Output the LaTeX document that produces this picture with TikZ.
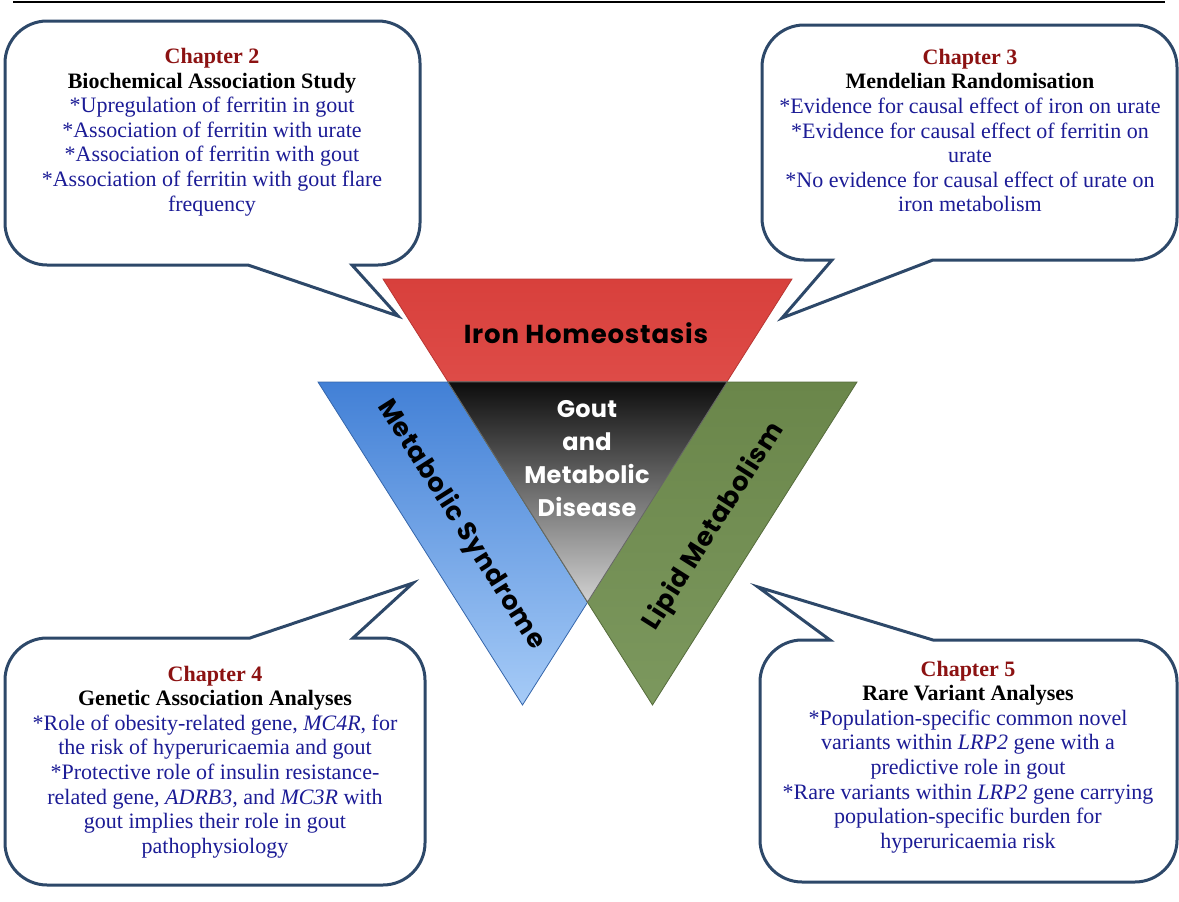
\documentclass[tikz,border=0pt]{standalone}
\usepackage{fontspec}
\setmainfont{Liberation Serif}
\newfontfamily\gothic{Poppins}[LetterSpace=3]
\newfontfamily\gothicctr{Poppins}[LetterSpace=1]
\definecolor{chapred}{RGB}{140,18,18}
\definecolor{bodyblue}{RGB}{28,28,150}
\definecolor{cline}{RGB}{45,72,105}
\definecolor{redtop}{RGB}{216,64,60}
\definecolor{redbot}{RGB}{234,100,96}
\definecolor{bluetop}{RGB}{66,128,214}
\definecolor{bluebot}{RGB}{166,203,247}
\definecolor{greentop}{RGB}{106,134,74}
\definecolor{greenbot}{RGB}{124,152,94}
\newcommand{\chaphead}[1]{{\color{chapred}\bfseries #1}}
\newcommand{\titlehead}[1]{{\color{black}\bfseries #1}}
\begin{document}
\begin{tikzpicture}[x=1pt,y=-1pt,
  callout/.style={draw=cline,line width=3pt,fill=white,line join=miter},
  ctext/.style={align=center,font=\fontsize{22}{24.6}\selectfont,text=bodyblue,inner sep=0pt},
  tri/.style={line width=0.8pt},
  gtext/.style={font=\gothic\bfseries\fontsize{26}{30}\selectfont,text=black,inner sep=0pt},
  ctrtext/.style={font=\gothicctr\bfseries\fontsize{24}{33}\selectfont,text=white,align=center,inner sep=0pt}]
\useasboundingbox (0,0) rectangle (1179,902);
% top rule
\coordinate (ruleL) at (13,2);
\coordinate (ruleR) at (1165,2);
\draw[line width=2.5pt] (ruleL) -- (ruleR);
% callout 1 (top-left)
\draw[callout] (47,21) -- (378,21) .. controls (401,21) and (420,40) .. (420,63)
  -- (420,223) .. controls (420,246) and (401,265) .. (378,265)
  -- (352,265) -- (398,316) -- (248,265)
  -- (47,265) .. controls (24,265) and (5,246) .. (5,223)
  -- (5,63) .. controls (5,40) and (24,21) .. cycle;
% callout 2 (top-right)
\draw[callout] (804,25) -- (1135,25) .. controls (1158,25) and (1177,44) .. (1177,67)
  -- (1177,218) .. controls (1177,241) and (1158,260) .. (1135,260)
  -- (933,260) -- (782,318) -- (832,260)
  -- (804,260) .. controls (781,260) and (762,241) .. (762,218)
  -- (762,67) .. controls (762,44) and (781,25) .. cycle;
% callout 3 (bottom-left)
\draw[callout] (47,638) -- (250,638) -- (413,583) -- (353,638)
  -- (383,638) .. controls (406,638) and (425,657) .. (425,680)
  -- (425,843) .. controls (425,866) and (406,885) .. (383,885)
  -- (47,885) .. controls (24,885) and (5,866) .. (5,843)
  -- (5,680) .. controls (5,657) and (24,638) .. cycle;
% callout 4 (bottom-right)
\draw[callout] (802,640) -- (830,640) -- (758,587) -- (933,640)
  -- (1135,640) .. controls (1158,640) and (1177,659) .. (1177,682)
  -- (1177,840) .. controls (1177,863) and (1158,882) .. (1135,882)
  -- (802,882) .. controls (779,882) and (760,863) .. (760,840)
  -- (760,682) .. controls (760,659) and (779,640) .. cycle;
% callout texts
\node[ctext] (t2) at (212,132) {\chaphead{Chapter 2}\\
  \titlehead{Biochemical Association Study}\\
  *Upregulation of ferritin in gout\\
  *Association of ferritin with urate\\
  *Association of ferritin with gout\\
  *Association of ferritin with gout flare\\
  frequency};
\node[ctext] (t3) at (970,130.5) {\chaphead{Chapter 3}\\
  \titlehead{Mendelian Randomisation}\\
  *Evidence for causal effect of iron on urate\\
  *Evidence for causal effect of ferritin on\\
  urate\\
  *No evidence for causal effect of urate on\\
  iron metabolism};
\node[ctext] (t4) at (215,762) {\chaphead{Chapter 4}\\
  \titlehead{Genetic Association Analyses}\\
  *Role of obesity-related gene, \textit{MC4R}, for\\
  the risk of hyperuricaemia and gout\\
  *Protective role of insulin resistance-\\
  related gene\textit{, ADRB3,} and \textit{MC3R} with\\
  gout implies their role in gout\\
  pathophysiology};
\node[ctext] (t5) at (968,757) {\chaphead{Chapter 5}\\
  \titlehead{Rare Variant Analyses}\\
  *Population-specific common novel\\
  variants within \textit{LRP2} gene with a\\
  predictive role in gout\\
  *Rare variants within \textit{LRP2} gene carrying\\
  population-specific burden for\\
  hyperuricaemia risk};
% triangles
\shade[tri,top color=redtop,bottom color=redbot,draw=redtop!85!black]
  (383,279) -- (792,279) -- (587.5,602) -- cycle;
\shade[tri,top color=bluetop,bottom color=bluebot,draw=bluetop!80!black]
  (318,382) -- (727,382) -- (522.5,705) -- cycle;
\shade[tri,top color=greentop,bottom color=greenbot,draw=greentop!80!black]
  (448,382) -- (857,382) -- (652.5,705) -- cycle;
\shade[tri,top color=black!95,bottom color=black!18,draw=black!60]
  (448,382) -- (727,382) -- (587.5,602) -- cycle;
% triangle labels
\node[gtext] (iron) at (586,333) {Iron Homeostasis};
\node[gtext,rotate=-57.7] (metsyn) at (461,525) {Metabolic Syndrome};
\node[gtext,rotate=57.7] (lipid) at (714,527) {Lipid Metabolism};
\node[ctrtext] (gout) at (587,459) {Gout\\and\\Metabolic\\Disease};
\end{tikzpicture}
\end{document}
